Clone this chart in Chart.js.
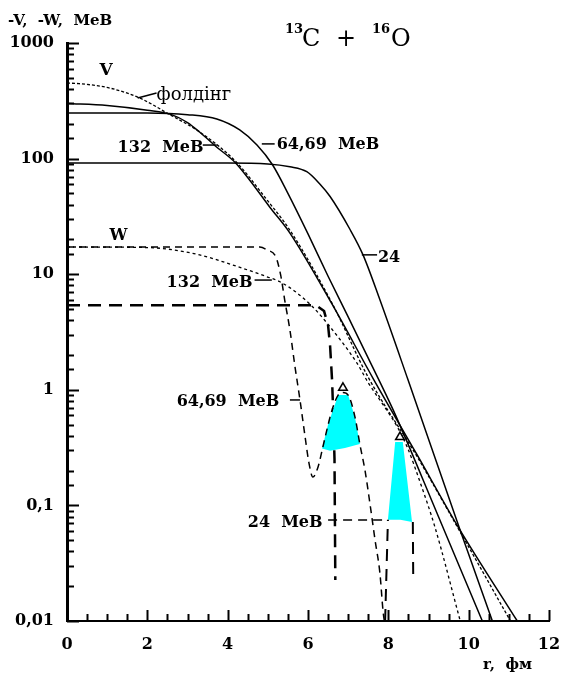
<!DOCTYPE html>
<html lang="uk">
<head>
  <meta charset="UTF-8" />
  <title>13C + 16O</title>
  <script src="https://cdn.jsdelivr.net/npm/chart.js"></script>
  <style>
    body, html { margin: 0; padding: 0; background: #fff; }
    #wrap { width: 561px; height: 673px; }
  </style>
</head>
<body>
  <div id="wrap"><canvas id="pot" width="561" height="673"></canvas></div>

  <script>
    // ---- дійсна частина V (MeB), r у фм ----
    const v132R  = [0, 1, 2, 2.6, 3.0, 3.3, 3.7, 4.18, 4.55, 5.05, 5.55, 6.6, 7.64, 8.7, 9.74, 11.21];
    const v132   = [300, 288, 262, 240, 205, 170, 128, 93, 65, 38, 22.7, 5.5, 1.22, 0.28, 0.065, 0.01];

    const v6469R = [0, 2, 3.0, 3.73, 4.3, 4.73, 5.12, 5.5, 6.0, 6.5, 7.0, 7.5, 8.12, 9.21, 10.34];
    const v6469  = [248, 248, 240, 220, 177, 131, 88, 50, 22.3, 9.6, 4.27, 1.88, 0.67, 0.086, 0.01];

    const v24R   = [0, 4, 5, 5.55, 5.97, 6.3, 6.55, 7.04, 7.37, 7.79, 8.49, 9.76, 10.59];
    const v24    = [91.6, 91.6, 90, 85, 77, 60, 47, 24.6, 14.7, 6.0, 1.22, 0.065, 0.01];

    const foldR  = [0, 0.3, 1.06, 1.81, 2.56, 3.3, 4.18, 5.0, 5.55, 6.6, 7.49, 8.7, 9.8, 11.04];
    const fold   = [450, 445, 408, 334, 240, 170, 96, 43, 24, 5.6, 1.3, 0.27, 0.058, 0.01];

    // ---- уявна частина W ----
    const w132R  = [0, 2.0, 2.5, 3.3, 4.13, 4.98, 5.3, 5.7, 6.12, 6.55, 7.22, 7.5, 7.92, 8.22, 8.47, 8.79, 9.16, 9.79];
    const w132   = [17.2, 17.0, 16.5, 14.7, 12.0, 9.5, 8.6, 7.0, 5.2, 3.5, 1.7, 1.15, 0.70, 0.48, 0.32, 0.159, 0.065, 0.01];

    const w6469R = [0, 4.8, 4.98, 5.2, 5.32, 5.42, 5.55, 5.67, 5.8, 5.92, 6.02, 6.12, 6.25, 6.37, 6.47, 6.6, 6.75, 6.87, 7.0, 7.17, 7.29, 7.42, 7.54, 7.67, 7.79, 7.87, 7.9];
    const w6469  = [17.2, 17.2, 16.2, 14.1, 9.8, 5.98, 3.29, 1.64, 0.82, 0.41, 0.237, 0.176, 0.215, 0.32, 0.45, 0.67, 0.9, 0.95, 0.9, 0.58, 0.34, 0.2, 0.105, 0.05, 0.026, 0.012, 0.01];

    const w24R   = [0, 6.2, 6.4, 6.5, 6.55, 6.6, 6.63, 6.66, 6.68];
    const w24    = [5.4, 5.4, 4.8, 3.6, 2.4, 1.2, 0.6, 0.25, 0.0226];

    // ---- межі областей чутливості (24 MeB) ----
    const band24R    = [6.5, 7.99];
    const band24     = [0.0748, 0.0748];
    const edgeLeftR  = [7.92, 7.99];
    const edgeLeft   = [0.01, 0.075];
    const edgeRightR = [8.61, 8.62];
    const edgeRight  = [0.072, 0.0226];

    // ---- заштриховані області ----
    const zone1R = [6.35, 6.5, 6.75, 7.0, 7.17, 7.29, 6.92, 6.55, 6.35];
    const zone1  = [0.31, 0.5, 0.9, 0.9, 0.58, 0.34, 0.314, 0.297, 0.31];
    const zone2R = [7.99, 8.17, 8.36, 8.59, 8.3, 7.99];
    const zone2  = [0.075, 0.353, 0.353, 0.072, 0.075, 0.075];

    const peakR = [6.87, 8.29];
    const peak  = [1.04, 0.39];

    // підписи: [текст, r, значення, шрифт]
    const BOLD = 'bold 16px "DejaVu Serif"';
    const notes = [
      ['V', 0.81, 529, 'bold 17px "DejaVu Serif"'],
      ['фолдінг', 2.23, 321, '18px "DejaVu Serif"'],
      ['132  МеВ', 1.26, 114, BOLD],
      ['64,69  МеВ', 5.22, 121, BOLD],
      ['24', 7.74, 12.8, BOLD],
      ['W', 1.06, 19.8, 'bold 16px "DejaVu Serif"'],
      ['132  МеВ', 2.48, 7.74, BOLD],
      ['64,69  МеВ', 2.73, 0.724, BOLD],
      ['24  МеВ', 4.50, 0.065, BOLD]
    ];
    // короткі риски-вказівники: [r1, v1, r2, v2]
    const pointers = [
      [1.76, 334, 2.23, 369],
      [3.38, 131, 3.73, 131],
      [4.85, 134, 5.17, 134],
      [7.34, 14.7, 7.72, 14.7],
      [4.67, 8.9, 5.10, 8.9],
      [5.55, 0.817, 5.80, 0.817]
    ];

    const pts = (rs, vs) => rs.map((r, i) => ({ x: r, y: vs[i] }));

    function curve(rs, vs, extra) {
      return Object.assign({
        data: pts(rs, vs),
        borderColor: '#000',
        borderWidth: 1.5,
        pointRadius: 0,
        fill: false,
        cubicInterpolationMode: 'monotone',
        order: 1
      }, extra);
    }

    const isDecade = v => Math.abs(Math.log10(v) - Math.round(Math.log10(v))) < 1e-6;

    const decorations = {
      id: 'decorations',
      afterDraw(chart) {
        const { ctx, chartArea: a, scales: { x, y } } = chart;
        ctx.save();
        ctx.strokeStyle = '#000';
        ctx.fillStyle = '#000';

        // засічки всередину
        ctx.lineWidth = 2;
        y.ticks.forEach(t => {
          const py = Math.round(y.getPixelForValue(t.value)) + 0.5;
          const len = isDecade(t.value) ? 12 : 7;
          ctx.beginPath(); ctx.moveTo(a.left, py); ctx.lineTo(a.left + len, py); ctx.stroke();
        });
        x.ticks.forEach(t => {
          const px = Math.round(x.getPixelForValue(t.value)) + 0.5;
          const len = t.value % 2 === 0 ? 11 : 7;
          ctx.beginPath(); ctx.moveTo(px, a.bottom); ctx.lineTo(px, a.bottom - len); ctx.stroke();
        });

        // вказівники
        ctx.lineWidth = 1.5;
        pointers.forEach(p => {
          ctx.beginPath();
          ctx.moveTo(x.getPixelForValue(p[0]), y.getPixelForValue(p[1]));
          ctx.lineTo(x.getPixelForValue(p[2]), y.getPixelForValue(p[3]));
          ctx.stroke();
        });

        ctx.textBaseline = 'alphabetic';
        ctx.textAlign = 'left';
        notes.forEach(n => {
          ctx.font = n[3];
          ctx.fillText(n[0], x.getPixelForValue(n[1]), y.getPixelForValue(n[2]));
        });

        // назви осей і заголовок
        ctx.font = 'bold 15px "DejaVu Serif"';
        ctx.fillText('-V,  -W,  МеВ', 8, 25);
        ctx.fillText('r,  фм', 483, 669);

        ctx.font = 'bold 13px "DejaVu Serif"';
        ctx.fillText('13', 285, 33);
        ctx.fillText('16', 372, 33);
        ctx.font = '24px "DejaVu Serif"';
        ctx.fillText('C', 302, 46);
        ctx.fillText('+', 336, 46);
        ctx.fillText('O', 391, 46);
        ctx.restore();
      }
    };

    new Chart(document.getElementById('pot'), {
      type: 'line',
      data: {
        datasets: [
          { data: pts(peakR, peak), showLine: false, pointStyle: 'triangle', pointRadius: 5,
            pointBackgroundColor: '#fff', pointBorderColor: '#000', pointBorderWidth: 1.5, order: 0 },
          curve(v132R, v132),
          curve(v6469R, v6469),
          curve(v24R, v24),
          curve(foldR, fold, { borderDash: [3, 2], borderWidth: 1.3 }),
          curve(w132R, w132, { borderDash: [3, 3], borderWidth: 1.3 }),
          curve(w6469R, w6469, { borderDash: [7, 5], borderWidth: 1.5 }),
          curve(band24R, band24, { borderDash: [9, 6], borderWidth: 1.5, cubicInterpolationMode: 'default', tension: 0 }),
          curve(edgeLeftR, edgeLeft, { borderDash: [12, 8], borderWidth: 2, cubicInterpolationMode: 'default', tension: 0 }),
          curve(edgeRightR, edgeRight, { borderDash: [12, 8], borderWidth: 2, cubicInterpolationMode: 'default', tension: 0 }),
          { data: pts(zone1R, zone1), borderWidth: 0, pointRadius: 0, fill: 'shape',
            backgroundColor: 'rgb(0,255,255)', tension: 0, order: 2 },
          { data: pts(zone2R, zone2), borderWidth: 0, pointRadius: 0, fill: 'shape',
            backgroundColor: 'rgb(0,255,255)', tension: 0, order: 2 },
          curve(w24R, w24, { borderDash: [13, 8], borderWidth: 2.5, cubicInterpolationMode: 'default', tension: 0, order: 3 })
        ]
      },
      options: {
        responsive: false,
        animation: false,
        devicePixelRatio: 1,
        layout: { padding: { top: 43, right: 0, left: 0, bottom: 0 } },
        plugins: { legend: { display: false }, tooltip: { enabled: false } },
        scales: {
          x: {
            type: 'linear', min: 0, max: 12,
            grid: { display: false, drawTicks: false },
            border: { display: true, color: '#000', width: 2 },
            ticks: {
              stepSize: 0.5, autoSkip: false, maxRotation: 0, padding: 14, color: '#000',
              font: { family: 'DejaVu Serif', size: 16, weight: 'bold' },
              callback: v => (v % 2 === 0 ? String(v) : '')
            },
            afterFit: s => { s.height = 52; s.paddingLeft = 0; s.paddingRight = 12; }
          },
          y: {
            type: 'logarithmic', min: 0.01, max: 1000,
            grid: { display: false, drawTicks: false },
            border: { display: true, color: '#000', width: 3 },
            ticks: {
              autoSkip: false, padding: 13, color: '#000',
              font: { family: 'DejaVu Serif', size: 16, weight: 'bold' },
              callback: v => (isDecade(v) ? String(v).replace('.', ',') : '')
            },
            afterFit: s => { s.width = 67; }
          }
        }
      },
      plugins: [decorations]
    });
  </script>
</body>
</html>
